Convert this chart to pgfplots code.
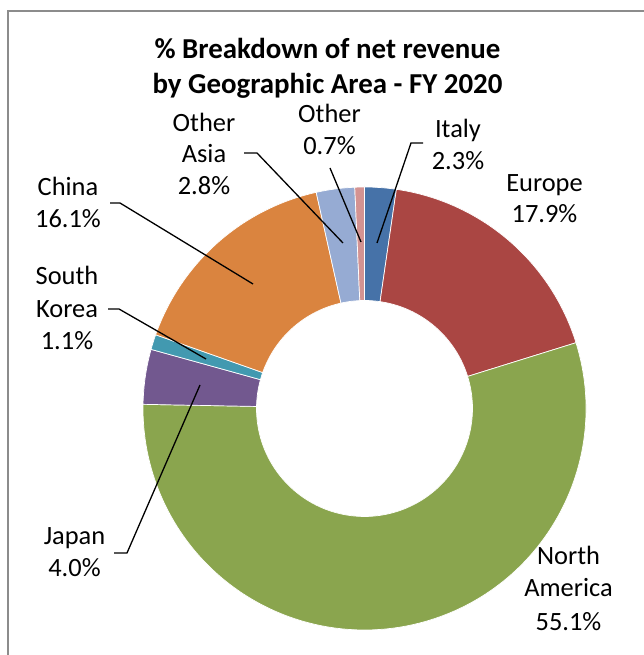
\documentclass[border=0pt]{standalone}
\usepackage{pgfplots}
\pgfplotsset{compat=1.18}
\usepackage{pgfplotstable}
\usepackage{fontspec}
\setmainfont{Carlito}

\definecolor{cItaly}{HTML}{4672A8}
\definecolor{cEurope}{HTML}{AA4643}
\definecolor{cNA}{HTML}{8AA54E}
\definecolor{cJapan}{HTML}{72588F}
\definecolor{cSK}{HTML}{4299B0}
\definecolor{cChina}{HTML}{DA843F}
\definecolor{cOAsia}{HTML}{96ABD3}
\definecolor{cOther}{HTML}{D49392}
\definecolor{cFrame}{HTML}{8C8C8C}

\pgfplotstableread[col sep=comma]{
region,value,color
Italy,2.3,cItaly
Europe,17.9,cEurope
NorthAmerica,55.1,cNA
Japan,4.0,cJapan
SouthKorea,1.1,cSK
China,16.1,cChina
OtherAsia,2.8,cOAsia
Other,0.7,cOther
}\slices

\newcommand{\lblfont}{\fontsize{26.5}{31.7}\selectfont}
\newcommand{\ttlfont}{\fontsize{29}{35}\selectfont\bfseries}

\begin{document}
\begin{tikzpicture}
\begin{axis}[
  width=644bp, height=655bp, scale only axis,
  xmin=0, xmax=644, ymin=0, ymax=655,
  hide axis, clip=false,
]
% donut slices, clockwise from 12 o'clock
\def\cum{0}
\pgfplotsforeachungrouped \i in {0,...,7}{%
  \pgfplotstablegetelem{\i}{value}\of\slices \let\v\pgfplotsretval
  \pgfplotstablegetelem{\i}{color}\of\slices \let\c\pgfplotsretval
  \pgfmathsetmacro\aS{90-3.6*\cum}%
  \pgfmathsetmacro\cum{\cum+\v}%
  \pgfmathsetmacro\aE{90-3.6*\cum}%
  \edef\cmd{\noexpand\fill[\c, draw=white, line width=0.7bp] (axis cs:364.5,246.5) ++(\aS:221.5bp) arc[start angle=\aS, end angle=\aE, radius=221.5bp] -- ++(\aE:-113.5bp) arc[start angle=\aE, end angle=\aS, radius=108bp] -- cycle;}%
  \cmd
}

% frame
\draw[cFrame, line width=1.6bp] (axis cs:8,0) -- (axis cs:8,644) -- (axis cs:644,644);

% title
\node[anchor=base, font=\ttlfont] at (axis cs:327.5,596) {\% Breakdown of net revenue};
\node[anchor=base, font=\ttlfont] at (axis cs:327.5,561) {by Geographic Area - FY 2020};

% labels
\begin{scope}[every node/.style={anchor=base, font=\lblfont, inner sep=0pt}]
\node at (axis cs:329.5,532) {Other};
\node at (axis cs:329.5,500) {0.7\%};
\node at (axis cs:458,517) {Italy};
\node at (axis cs:458,485.5) {2.3\%};
\node at (axis cs:204,523) {Other};
\node at (axis cs:204,492) {Asia};
\node at (axis cs:204,460) {2.8\%};
\node at (axis cs:544.5,463) {Europe};
\node at (axis cs:544.5,432) {17.9\%};
\node at (axis cs:68,459) {China};
\node at (axis cs:68,427) {16.1\%};
\node at (axis cs:67,370) {South};
\node at (axis cs:67,337) {Korea};
\node at (axis cs:67,305) {1.1\%};
\node at (axis cs:74.5,110) {Japan};
\node at (axis cs:74.5,78) {4.0\%};
\node at (axis cs:568.5,90) {North};
\node at (axis cs:568.5,58) {America};
\node at (axis cs:568.5,25) {55.1\%};
\end{scope}

% leader lines
\begin{scope}[black, line width=1.3bp]
\draw (axis cs:244,502) -- (axis cs:257,502) -- (axis cs:343,412);
\draw (axis cs:330,487) -- (axis cs:361,413);
\draw (axis cs:423,512) -- (axis cs:411,512) -- (axis cs:377,412);
\draw (axis cs:110,452) -- (axis cs:120,452) -- (axis cs:253,371);
\draw (axis cs:108,346) -- (axis cs:119,346) -- (axis cs:206,296);
\draw (axis cs:114,102) -- (axis cs:127,102) -- (axis cs:200,270);
\end{scope}
\end{axis}
\pgfresetboundingbox
\path[use as bounding box] (current axis.south west) rectangle (current axis.north east);
\end{tikzpicture}
\end{document}
